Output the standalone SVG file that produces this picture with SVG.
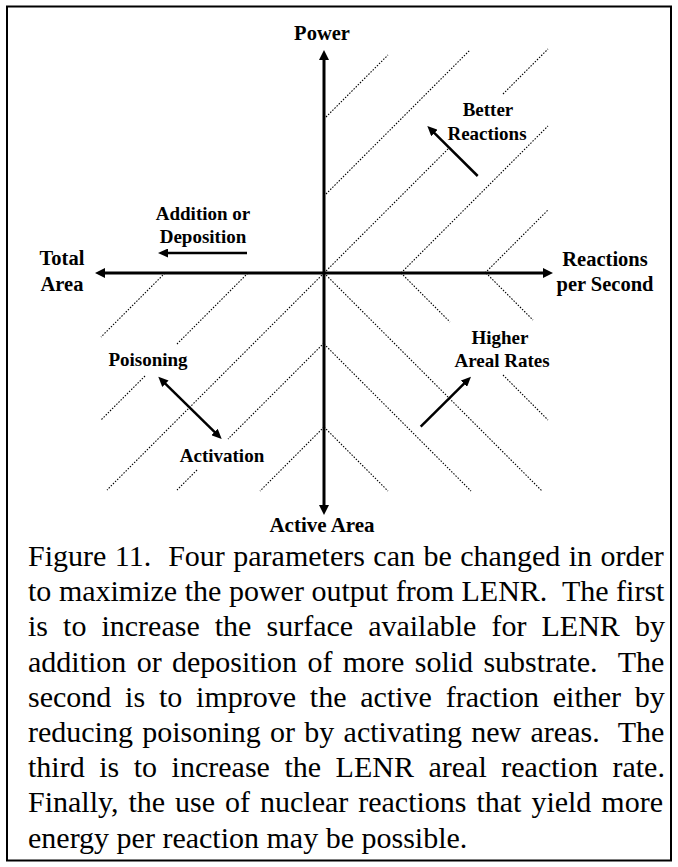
<svg xmlns="http://www.w3.org/2000/svg" width="678" height="867" viewBox="0 0 678 867">
<style>
.lbl{font-family:"Liberation Serif","Times New Roman",serif;font-weight:bold;fill:#000;text-anchor:middle}
.ax{font-size:20.5px}
.in{font-size:19px}
.cap{font-family:"Liberation Serif","Times New Roman",serif;font-size:30px;fill:#000;white-space:pre}
.dot{stroke:#000;stroke-width:1.1;stroke-dasharray:1.5 1.5;fill:none}
.axis{stroke:#000;stroke-width:3;fill:none}
.arr{stroke:#000;stroke-width:2.5;fill:none}
</style>
<defs>
<marker id="ahBig" markerUnits="userSpaceOnUse" markerWidth="11" markerHeight="10" refX="2" refY="5" orient="auto-start-reverse" viewBox="0 0 11 10">
<path d="M0,0 L10,5 L0,10 z" fill="#000"/>
</marker>
<marker id="ah" markerUnits="userSpaceOnUse" markerWidth="10" markerHeight="9" refX="2" refY="4.5" orient="auto-start-reverse" viewBox="0 0 10 9">
<path d="M0,0 L10,4.5 L0,9 z" fill="#000"/>
</marker>
</defs>
<rect x="7" y="6.5" width="664" height="854" fill="#fff" stroke="#000" stroke-width="2"/>
<g id="hatching">
<line class="dot" x1="326" y1="117" x2="388" y2="55"/>
<line class="dot" x1="326" y1="194" x2="470" y2="50"/>
<line class="dot" x1="324" y1="273" x2="448" y2="149"/>
<line class="dot" x1="503" y1="94" x2="548" y2="49"/>
<line class="dot" x1="401" y1="273" x2="548" y2="126"/>
<line class="dot" x1="485" y1="273" x2="548" y2="210"/>
<line class="dot" x1="165" y1="273" x2="101" y2="337"/>
<line class="dot" x1="248" y1="273" x2="177" y2="344"/>
<line class="dot" x1="145" y1="376" x2="101" y2="420"/>
<line class="dot" x1="324" y1="273" x2="107" y2="490"/>
<line class="dot" x1="324" y1="343" x2="228" y2="439"/>
<line class="dot" x1="197" y1="470" x2="177" y2="490"/>
<line class="dot" x1="324" y1="427" x2="260" y2="491"/>
<line class="dot" x1="486" y1="273" x2="533" y2="320"/>
<line class="dot" x1="401" y1="273" x2="450" y2="322"/>
<line class="dot" x1="503" y1="375" x2="548" y2="420"/>
<line class="dot" x1="324" y1="273" x2="542" y2="491"/>
<line class="dot" x1="324" y1="344" x2="471" y2="491"/>
<line class="dot" x1="324" y1="427" x2="388" y2="491"/>
</g>
<g id="connectors">
<line id="axis-vertical" class="axis" x1="324" y1="507" x2="324" y2="58" marker-start="url(#ahBig)" marker-end="url(#ahBig)"/>
<line id="axis-horizontal" class="axis" x1="103" y1="273" x2="545" y2="273" marker-start="url(#ahBig)" marker-end="url(#ahBig)"/>
<line id="arrow-addition" class="arr" stroke-width="3" x1="247" y1="253" x2="166" y2="253" marker-end="url(#ah)"/>
<line id="arrow-better" class="arr" x1="477.7" y1="176" x2="433" y2="131.6" marker-end="url(#ah)"/>
<line id="arrow-poison-activation" class="arr" x1="164" y1="382.3" x2="216" y2="433.4" marker-start="url(#ah)" marker-end="url(#ah)"/>
<line id="arrow-higher" class="arr" stroke-width="2.2" x1="420.7" y1="426.7" x2="465.3" y2="382.3" marker-end="url(#ah)"/>
</g>
<g id="node-power"><text class="lbl ax" x="322" y="40">Power</text></g>
<g id="node-total-area"><text class="lbl ax" x="62" y="265">Total</text><text class="lbl ax" x="62" y="291">Area</text></g>
<g id="node-reactions-per-second"><text class="lbl ax" x="605" y="266">Reactions</text><text class="lbl ax" x="605" y="291">per Second</text></g>
<g id="node-active-area"><text class="lbl ax" style="font-size:21px" x="322" y="532">Active Area</text></g>
<g id="node-addition"><text class="lbl in" x="203" y="220">Addition or</text><text class="lbl in" x="203" y="243">Deposition</text></g>
<g id="node-better"><text class="lbl in" x="488" y="116">Better</text><text class="lbl in" x="487" y="140">Reactions</text></g>
<g id="node-poisoning"><text class="lbl in" x="148" y="366">Poisoning</text></g>
<g id="node-activation"><text class="lbl in" x="222" y="462">Activation</text></g>
<g id="node-higher"><text class="lbl in" x="500" y="344">Higher</text><text class="lbl in" x="502" y="367">Areal Rates</text></g>
<g id="caption">
<text class="cap" x="28" y="566" word-spacing="0.98">Figure 11.  Four parameters can be changed in order</text>
<text class="cap" x="28" y="601.2" word-spacing="0.05">to maximize the power output from LENR.  The first</text>
<text class="cap" x="28" y="636.4" word-spacing="7.56">is to increase the surface available for LENR by</text>
<text class="cap" x="28" y="671.6" word-spacing="2.86">addition or deposition of more solid substrate.  The</text>
<text class="cap" x="28" y="706.8" word-spacing="6.3">second is to improve the active fraction either by</text>
<text class="cap" x="28" y="742" word-spacing="1.83">reducing poisoning or by activating new areas.  The</text>
<text class="cap" x="28" y="777.2" word-spacing="7.04">third is to increase the LENR areal reaction rate.</text>
<text class="cap" x="28" y="812.4" word-spacing="2.45">Finally, the use of nuclear reactions that yield more</text>
<text class="cap" x="28" y="847.6">energy per reaction may be possible.</text>
</g>
</svg>
